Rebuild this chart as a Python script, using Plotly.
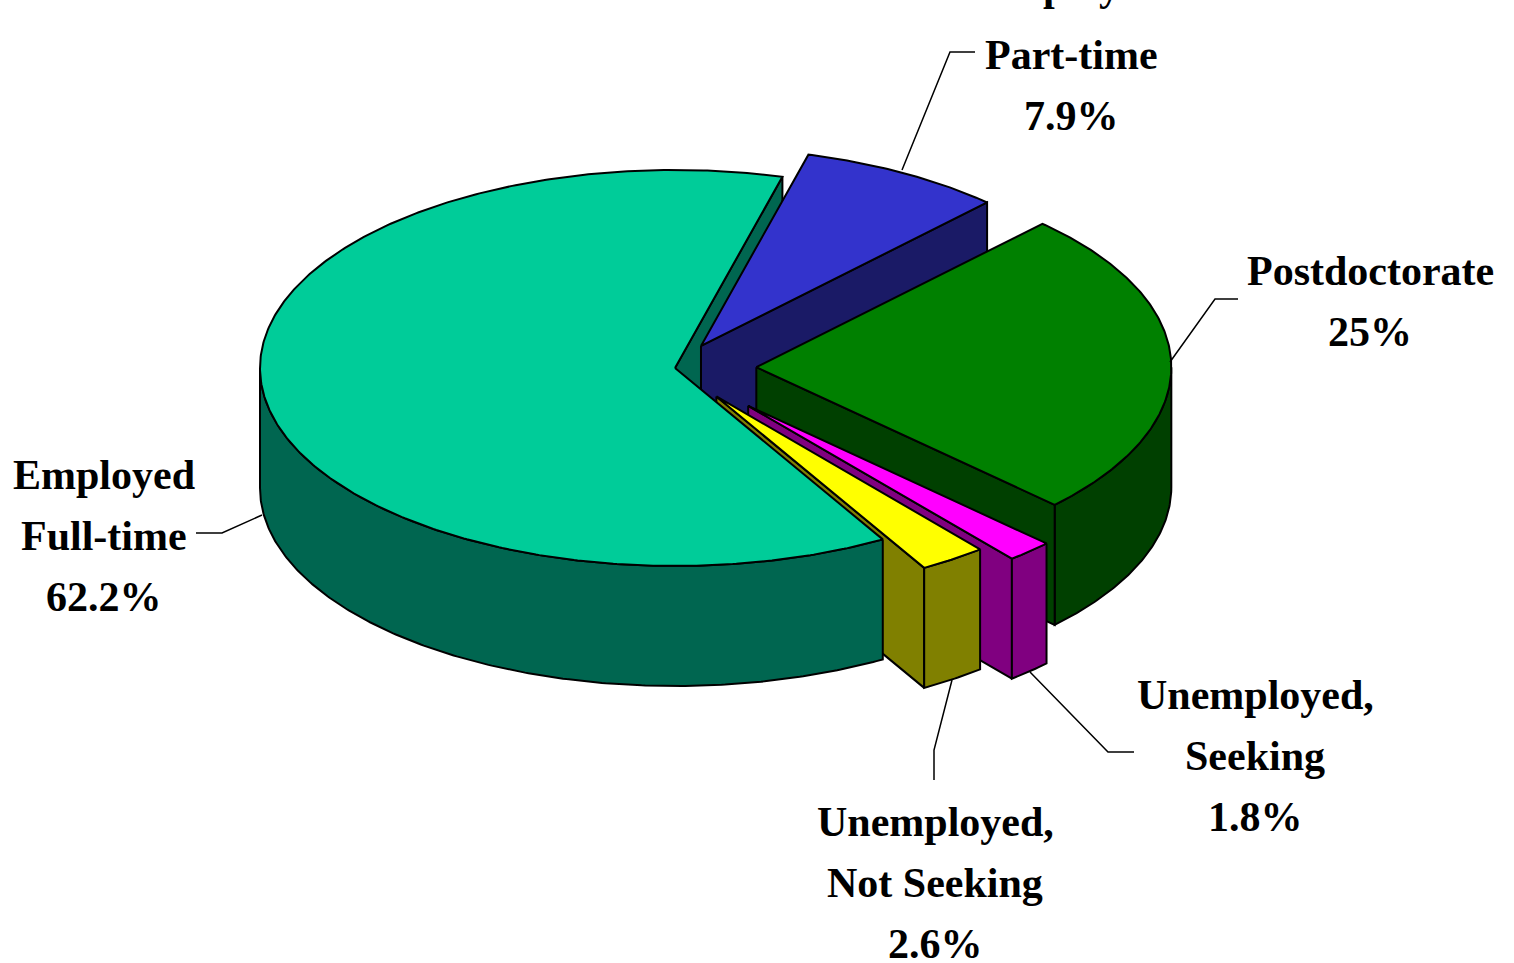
import numpy as np
import plotly.graph_objects as go

# --- data ---
categories = ["Part-time", "Postdoctorate", "Unemployed, Seeking", "Unemployed, Not Seeking", "Employed Full-time"]
values = [7.9, 25, 1.8, 2.6, 62.2]
label_lines = [["Employed", "Part-time"], ["Postdoctorate"], ["Unemployed,", "Seeking"],
               ["Unemployed,", "Not Seeking"], ["Employed", "Full-time"]]
explode = [0.128, 0.196, 0.26, 0.175, 0.0]
top_colors = ["#3333CC", "#008000", "#FF00FF", "#FFFF00", "#00CC99"]
side_colors = ["#1A1A66", "#004000", "#800080", "#808000", "#006650"]
label_x = [1071, 1370, 1255, 935, 104]
label_first_y = [-6, 271, 695, 822, 475]
LINE_STEP = 61
CLIPPED_LINE_LIFT = 8  # the reference shows only the descenders of the line cut by the top edge
leaders = [
    ([975, 950, 902], [52, 52, 170]),
    ([1238, 1215, 1170], [299, 299, 362]),
    ([1134, 1108, 1030], [752, 752, 672]),
    ([934, 934, 952], [780, 750, 680]),
    ([196, 222, 262], [533, 533, 515]),
]

# --- pie projection ---
CX, CY, RX, RY, DEPTH = 675, 368, 415, 198, 120
START = 15.0
LINE = dict(color="black", width=2)

total = sum(values)
spans = [v / total * 360 for v in values]
ends = list(START + np.cumsum(spans))
starts = [START] + ends[:-1]


def offset(i):
    mid = np.radians((starts[i] + ends[i]) / 2)
    return CX + explode[i] * RX * np.sin(mid), CY - explode[i] * RY * np.cos(mid)


def arc(i, a0, a1):
    ox, oy = offset(i)
    t = np.radians(np.linspace(a0, a1, max(int(abs(a1 - a0) * 2), 2)))
    return ox + RX * np.sin(t), oy - RY * np.cos(t)


fig = go.Figure()


def poly(x, y, color, name):
    fig.add_trace(go.Scatter(x=list(x) + [x[0]], y=list(y) + [y[0]], mode="lines", fill="toself",
                             fillcolor=color, line=LINE, name=name, hoverinfo="name", showlegend=False))


def cut_face(i):
    ox, oy = offset(i)
    ex, ey = arc(i, ends[i], ends[i])
    poly([ox, ex[0], ex[0], ox], [oy, ey[0], ey[0] + DEPTH, oy + DEPTH], side_colors[i], categories[i])


def wall(i):
    a0, a1 = max(starts[i], 90), min(ends[i], 270)
    x, y = arc(i, a0, a1)
    poly(np.r_[x, x[::-1]], np.r_[y, y[::-1] + DEPTH], side_colors[i], categories[i])


def top(i):
    ox, oy = offset(i)
    x, y = arc(i, starts[i], ends[i])
    poly(np.r_[ox, x], np.r_[oy, y], top_colors[i], f"{categories[i]}: {values[i]:g}%")


P, D, S, N, E = range(5)
for i in (E, P):
    cut_face(i)
wall(D)
for i in (D, S, N):
    cut_face(i)
wall(E)
top(E)
top(P)
top(D)
wall(S); top(S)
wall(N); top(N)

for lx, ly in leaders:
    fig.add_trace(go.Scatter(x=lx, y=ly, mode="lines", line=dict(color="black", width=1.5),
                             hoverinfo="skip", showlegend=False))

for lines, v, tx, ty in zip(label_lines, values, label_x, label_first_y):
    for k, line in enumerate(lines + [f"{v:g}%"]):
        yy = ty + k * LINE_STEP
        # Plotly hides annotations anchored off the axis, so the clipped line is anchored at the edge and shifted
        shift = -yy + CLIPPED_LINE_LIFT if yy < 0 else 0
        fig.add_annotation(x=tx, y=max(yy, 0), yshift=shift, text=line, showarrow=False,
                           xanchor="center", yanchor="middle", align="center",
                           font=dict(family="Liberation Serif", size=42, color="black", weight="bold"))

fig.update_layout(width=1514, height=963, margin=dict(l=0, r=0, t=0, b=0), plot_bgcolor="white",
                  paper_bgcolor="white", showlegend=False,
                  xaxis=dict(range=[0, 1514], visible=False, fixedrange=True),
                  yaxis=dict(range=[963, 0], visible=False, fixedrange=True))
fig.write_html("out.html", post_script="document.body.style.margin='0';document.body.style.overflow='hidden';",
               config={"displayModeBar": False})
